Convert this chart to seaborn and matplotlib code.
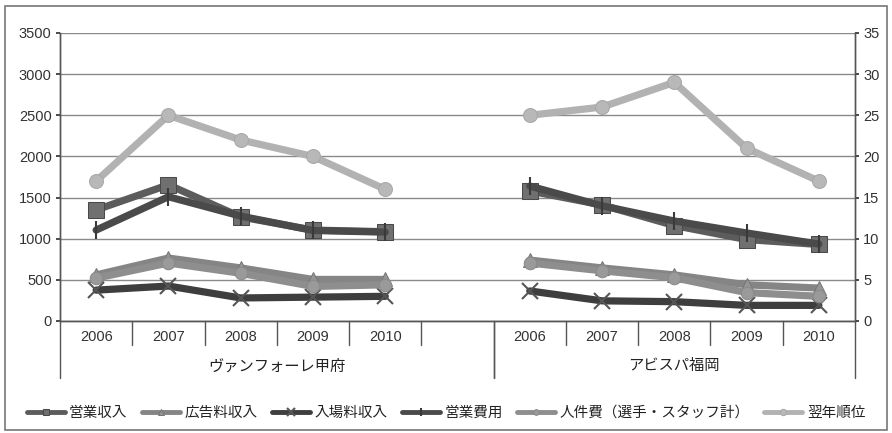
import numpy as np
import pandas as pd
import matplotlib
matplotlib.use("Agg")
import matplotlib.pyplot as plt
import matplotlib.transforms as mtransforms
from matplotlib.patches import Rectangle
import seaborn as sns

sns.set_theme(style="white")
plt.rcParams['font.family'] = ['Liberation Sans', 'Noto Sans CJK JP', 'DejaVu Sans']

# ---------------- data ----------------
years = ['2006', '2007', '2008', '2009', '2010']
teams = ['ヴァンフォーレ甲府', 'アビスパ福岡']

eigyo_shunyu_kofu = [1350, 1655, 1265, 1105, 1085]
eigyo_shunyu_fuk = [1580, 1410, 1160, 990, 930]
kokoku_kofu = [560, 765, 645, 505, 505]
kokoku_fuk = [740, 645, 560, 440, 400]
nyujo_kofu = [375, 425, 280, 290, 300]
nyujo_fuk = [365, 245, 235, 190, 190]
eigyo_hiyo_kofu = [1105, 1510, 1275, 1100, 1080]
eigyo_hiyo_fuk = [1640, 1400, 1215, 1070, 935]
jinkenhi_kofu = [520, 705, 580, 420, 440]
jinkenhi_fuk = [705, 610, 525, 345, 300]
rank_kofu = [17, 25, 22, 20, 16]
rank_fuk = [25, 26, 29, 21, 17]

series_names = ['営業収入', '広告料収入', '入場料収入', '営業費用',
                '人件費（選手・スタッフ計）', '翌年順位']
series_data = {
    '営業収入': [eigyo_shunyu_kofu, eigyo_shunyu_fuk],
    '広告料収入': [kokoku_kofu, kokoku_fuk],
    '入場料収入': [nyujo_kofu, nyujo_fuk],
    '営業費用': [eigyo_hiyo_kofu, eigyo_hiyo_fuk],
    '人件費（選手・スタッフ計）': [jinkenhi_kofu, jinkenhi_fuk],
    '翌年順位': [rank_kofu, rank_fuk],
}
styles = {
    '営業収入': dict(color='#5c5c5c', marker='s', markersize=11, mfc='#707070', mec='#4a4a4a'),
    '広告料収入': dict(color='#858585', marker='^', markersize=10, mfc='#969696', mec='#777777'),
    '入場料収入': dict(color='#3e3e3e', marker='x', markersize=12, mew=1.5, mec='#555555'),
    '営業費用': dict(color='#4a4a4a', marker='|', markersize=13, mew=1.5, mec='#3a3a3a'),
    '人件費（選手・スタッフ計）': dict(color='#8e8e8e', marker='o', markersize=9, mfc='#9a9a9a', mec='#8a8a8a'),
    '翌年順位': dict(color='#b2b2b2', marker='o', markersize=10, mfc='#b8b8b8', mec='#a8a8a8'),
}

slots_per_team = len(years) + 1
n_slots = slots_per_team * len(teams) - 1

rows = []
for name in series_names:
    for t, team in enumerate(teams):
        for i, yr in enumerate(years):
            rows.append(dict(series=name, team=team, year=yr,
                             pos=t * slots_per_team + i,
                             value=series_data[name][t][i]))
df = pd.DataFrame(rows)

# ---------------- figure ----------------
W, H = 892, 433
fig = plt.figure(figsize=(W / 100, H / 100), dpi=100)
fig.patch.set_facecolor('white')
ax = fig.add_axes([60 / W, 1 - 321 / H, (855 - 60) / W, (321 - 33) / H])
ax2 = ax.twinx()

handles = {}
for name in series_names:
    target = ax2 if name == '翌年順位' else ax
    for t, team in enumerate(teams):
        sub = df[(df.series == name) & (df.team == team)]
        kw = dict(styles[name])
        sns.lineplot(data=sub, x='pos', y='value', ax=target, lw=5.2,
                     legend=False, label=name if t == 0 else None,
                     zorder=3, **kw)
    handles[name] = target.get_lines()[-2]

ax.set_xlim(-0.5, n_slots - 0.5)
ax.set_ylim(0, 3500)
ax.set_yticks(np.arange(0, 3501, 500))
ax2.set_ylim(0, 35)
ax2.set_yticks(np.arange(0, 36, 5))
ax.set_xlabel('')
ax.set_ylabel('')
ax2.set_xlabel('')
ax2.set_ylabel('')
ax.set_xticks([])
ax.grid(axis='y', color='#8a8a8a', lw=1.0)
ax.set_axisbelow(True)
for a in (ax, ax2):
    a.spines['top'].set_visible(False)
    for s in ('left', 'right', 'bottom'):
        a.spines[s].set_color('#555555')
        a.spines[s].set_linewidth(1.0)
ax.tick_params(axis='y', labelsize=10.5, colors='#333333', length=3, pad=3)
ax2.tick_params(axis='y', labelsize=10.5, colors='#333333', length=3, pad=3)
for lbl in ax.get_yticklabels() + ax2.get_yticklabels():
    lbl.set_color('#333333')

# two-level category labels
trans = mtransforms.blended_transform_factory(ax.transData, ax.transAxes)
ax_h = 321 - 33
short_y = -(345 - 321) / ax_h
long_y = -(378 - 321) / ax_h
for t, team in enumerate(teams):
    start = t * slots_per_team
    for i, yr in enumerate(years):
        ax.text(start + i, -(337 - 321) / ax_h, yr, transform=trans,
                ha='center', va='center', fontsize=10.5, color='#333333')
    n_in_group = slots_per_team if t < len(teams) - 1 else len(years)
    for k in range(1, n_in_group):
        ax.plot([start + k - 0.5] * 2, [0, short_y], transform=trans,
                color='#555555', lw=1.0, clip_on=False)
    left = start - 0.5
    right = start + n_in_group - 0.5
    ax.plot([left] * 2, [0, long_y], transform=trans, color='#555555', lw=1.0, clip_on=False)
    ax.plot([right] * 2, [0, long_y], transform=trans, color='#555555', lw=1.0, clip_on=False)
    ax.text((left + right) / 2, -(366 - 321) / ax_h, team, transform=trans,
            ha='center', va='center', fontsize=11, color='#222222')

# legend
leg = fig.legend([handles[n] for n in series_names], series_names,
                 loc='center', bbox_to_anchor=(0.5, 1 - 413 / H), ncol=6,
                 frameon=False, fontsize=10.5, handlelength=2.6,
                 handletextpad=0.3, columnspacing=1.0, markerscale=0.45,
                 borderpad=0.2)
for h in leg.legend_handles:
    h.set_linewidth(3.5)
for txt in leg.get_texts():
    txt.set_color('#222222')

# outer frame
fig.patches.append(Rectangle((5 / W, 3 / H), (W - 10) / W, (H - 9) / H,
                             transform=fig.transFigure, fill=False,
                             edgecolor='#777777', lw=1.2))

fig.savefig('out.png', dpi=100)
